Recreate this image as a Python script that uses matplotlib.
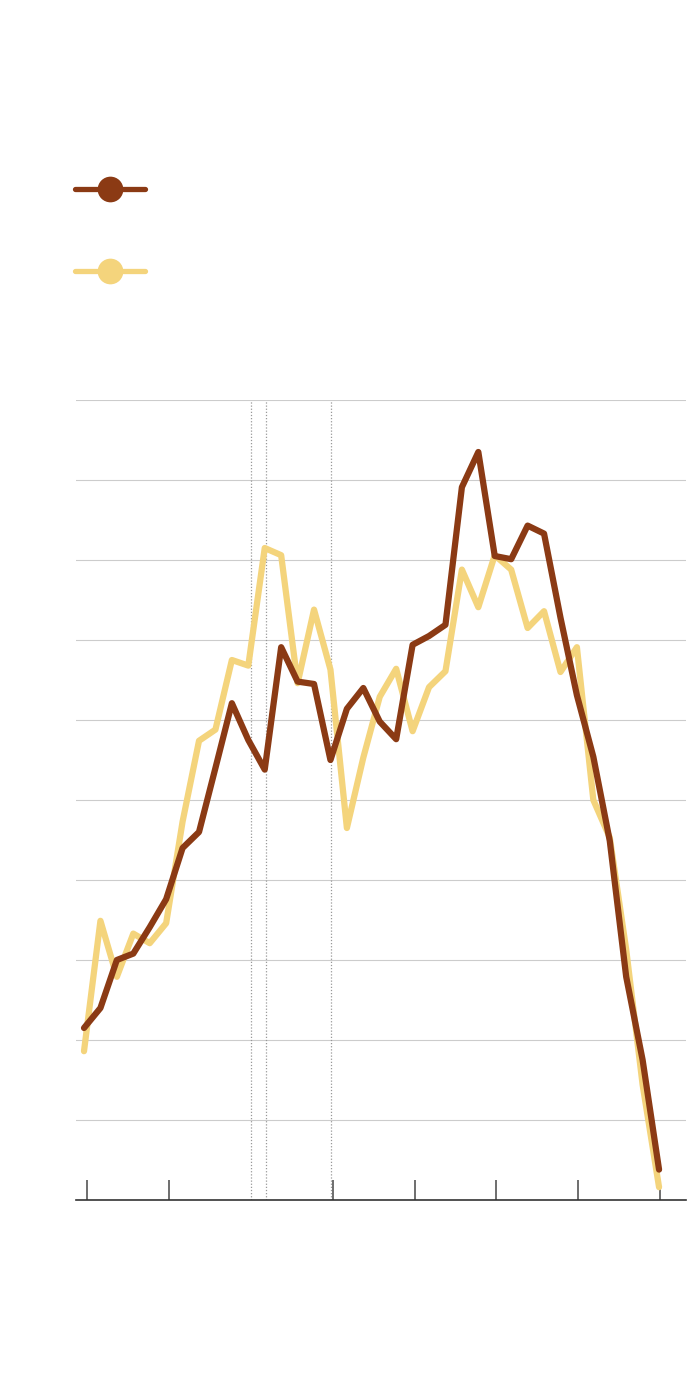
import numpy as np
import matplotlib
matplotlib.use("Agg")
import matplotlib.pyplot as plt
from matplotlib.lines import Line2D

# Series values (one point per period)
brown_vals = [2.15, 2.40, 3.00, 3.08, 3.41, 3.76, 4.40, 4.60, 5.40, 6.21,
              5.75, 5.38, 6.91, 6.48, 6.45, 5.50, 6.14, 6.40, 5.98, 5.76,
              6.94, 7.05, 7.19, 8.91, 9.35, 8.05, 8.01, 8.43, 8.33, 7.28,
              6.31, 5.54, 4.49, 2.79, 1.75, 0.38]
yellow_vals = [1.86, 3.49, 2.79, 3.33, 3.21, 3.46, 4.73, 5.74, 5.88, 6.75,
               6.68, 8.15, 8.06, 6.46, 7.38, 6.63, 4.65, 5.53, 6.29, 6.64,
               5.86, 6.41, 6.61, 7.88, 7.41, 8.06, 7.88, 7.15, 7.36, 6.60,
               6.91, 5.00, 4.53, 3.13, 1.44, 0.16]
periods = np.arange(len(brown_vals))

# x tick positions and event markers (dotted lines)
tick_pos = [0.18, 5.17, 15.16, 20.15, 25.08, 30.07, 35.06]
event_pos = [10.16, 11.08, 15.03]
grid_levels = list(range(0, 11))

brown = "#8B3A14"
yellow = "#F4D47C"

fig = plt.figure(figsize=(7, 14), dpi=100)
fig.patch.set_facecolor("white")
ax = fig.add_axes([76 / 700, 200 / 1400, 610 / 700, 800 / 1400])

for g in grid_levels[1:]:
    ax.axhline(g, color="#cccccc", lw=0.8, zorder=1)
for e in event_pos:
    ax.axvline(e, color="#999999", lw=0.9, ls=(0, (1, 1.5)), zorder=1)

ax.plot(periods, yellow_vals, color=yellow, lw=4.5, solid_joinstyle="round",
        solid_capstyle="round", zorder=3)
ax.plot(periods, brown_vals, color=brown, lw=4.5, solid_joinstyle="round",
        solid_capstyle="round", zorder=4)

ax.set_xlim(-0.487, 36.64)
ax.set_ylim(0, 10)
for s in ["top", "right", "left"]:
    ax.spines[s].set_visible(False)
ax.spines["bottom"].set_color("#333333")
ax.spines["bottom"].set_linewidth(1.2)
ax.set_yticks([])
ax.set_xticks(tick_pos)
ax.set_xticklabels([])
ax.tick_params(axis="x", direction="in", length=14.5, width=1.2, color="#555555")

# legend swatches (no labels)
for ypos, col in [(1 - 189 / 1400, brown), (1 - 271 / 1400, yellow)]:
    fig.add_artist(Line2D([75 / 700, 145 / 700], [ypos, ypos], color=col, lw=3.8,
                          solid_capstyle="round", transform=fig.transFigure))
    fig.add_artist(Line2D([110 / 700], [ypos], marker="o", markersize=18.5,
                          color=col, markeredgewidth=0, transform=fig.transFigure))

fig.savefig("out.png", dpi=100, facecolor="white")
